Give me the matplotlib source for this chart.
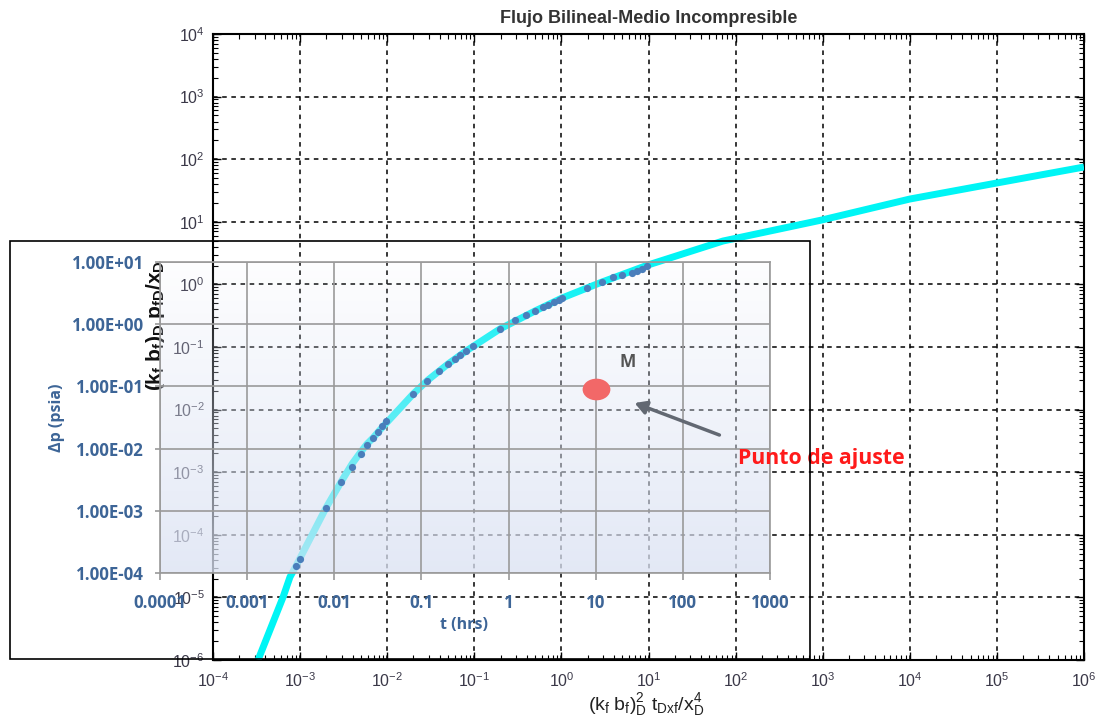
import numpy as np
import matplotlib
matplotlib.use("Agg")
import matplotlib.pyplot as plt
from matplotlib.patches import Rectangle
from matplotlib.path import Path
from matplotlib.transforms import Affine2D
from matplotlib.ticker import LogLocator, NullFormatter

plt.rcParams['font.family'] = ['Liberation Sans', 'DejaVu Sans']
plt.rcParams['mathtext.fontset'] = 'custom'
plt.rcParams['mathtext.rm'] = 'Liberation Sans'
plt.rcParams['mathtext.it'] = 'Liberation Sans'
plt.rcParams['mathtext.bf'] = 'Liberation Sans:bold'

# type curve: bilinear flow, incompressible fluid
curve_x = [3.29e-4, 6.37e-4, 7.66e-4, 8.97e-4, 1.0e-3, 1.98e-3, 2.95e-3, 3.94e-3,
           4.88e-3, 5.86e-3, 6.87e-3, 8.05e-3, 0.0198, 0.0294, 0.0499, 0.0804,
           0.197, 0.498, 1.02, 2.92, 9.86, 71.6, 982, 1.0e4, 1.0e5, 1.0e6]
curve_y = [1.0e-6, 1.01e-5, 2.12e-5, 3.18e-5, 4.26e-5, 2.68e-4, 6.97e-4, 1.35e-3,
           2.03e-3, 2.82e-3, 3.52e-3, 4.55e-3, 0.0177, 0.0297, 0.0535, 0.0863,
           0.194, 0.376, 0.607, 1.09, 2.04, 4.93, 10.7, 23.1, 41.7, 75.0]

# field data: time (hrs) and pressure change (psia)
t_hrs = [0.00364, 0.00405, 0.00805, 0.0120, 0.0160, 0.0203, 0.0238, 0.0279, 0.0318,
         0.0354, 0.0394, 0.0804, 0.116, 0.160, 0.203, 0.244, 0.278, 0.326, 0.393,
         0.802, 1.19, 1.59, 2.02, 2.49, 2.85, 3.34, 3.81, 4.12, 7.98, 11.9, 15.9,
         20.1, 26.2, 29.9, 34.2, 39.0]
dp_psia = [1.30e-4, 1.68e-4, 1.11e-3, 2.90e-3, 5.06e-3, 8.18e-3, 0.0114, 0.0148, 0.0185,
           0.0231, 0.0278, 0.0755, 0.122, 0.177, 0.229, 0.276, 0.320, 0.371, 0.447,
           0.837, 1.17, 1.41, 1.63, 1.89, 2.04, 2.28, 2.45, 2.64, 3.82, 4.76, 5.74,
           6.18, 6.65, 7.16, 7.71, 8.63]

match_t = 10.0
match_dp = 0.09

t_ticks = [1e-4, 1e-3, 1e-2, 1e-1, 1, 10, 100, 1000]
t_labels = ['0.0001', '0.001', '0.01', '0.1', '1', '10', '100', '1000']
dp_ticks = [1e-4, 1e-3, 1e-2, 1e-1, 1, 10]
dp_labels = ['1.00E-04', '1.00E-03', '1.00E-02', '1.00E-01', '1.00E+00', '1.00E+01']

W, H = 1102, 726


def frect(left, top, right, bottom):
    # pixel box -> figure fraction rect
    return [left / W, 1 - bottom / H, (right - left) / W, (bottom - top) / H]


def fpt(px, py):
    return (px / W, 1 - py / H)


fig = plt.figure(figsize=(W / 100, H / 100), dpi=100)

# ---- type curve axes ----
ax = fig.add_axes(frect(213, 34, 1084, 660))
ax.set_xscale('log')
ax.set_yscale('log')
ax.plot(curve_x, curve_y, color='#00f5f5', lw=5.0, solid_capstyle='butt', zorder=3)
ax.set_xlim(1e-4, 1e6)
ax.set_ylim(1e-6, 1e4)
ax.xaxis.set_major_locator(LogLocator(base=10, numticks=20))
ax.yaxis.set_major_locator(LogLocator(base=10, numticks=20))
ax.xaxis.set_minor_locator(LogLocator(base=10, subs=np.arange(2, 10), numticks=20))
ax.yaxis.set_minor_locator(LogLocator(base=10, subs=np.arange(2, 10), numticks=20))
ax.xaxis.set_minor_formatter(NullFormatter())
ax.yaxis.set_minor_formatter(NullFormatter())
ax.grid(True, which='major', color='black', ls=(0, (3, 3)), lw=1.1)
ax.tick_params(which='both', direction='in', top=True, right=True, color='black')
ax.tick_params(which='major', length=6, width=1.0, labelsize=11.5, labelcolor='#3a3848')
ax.tick_params(which='minor', length=3.5, width=0.8)
ax.tick_params(axis='y', pad=6)
ax.tick_params(axis='x', pad=8)
for s in ax.spines.values():
    s.set_linewidth(1.5)
ax.set_title('Flujo Bilineal-Medio Incompresible', fontsize=13, fontweight='bold',
             color='#333333', pad=8)
ax.set_xlabel(r'$(k_f\ b_f)_D^2\ t_{Dxf}/x_D^4$', fontsize=14, color='#222222')
ax.xaxis.set_label_coords(0.497, -0.050)
ax.set_ylabel(r'$\mathbf{(k_f\ b_f)_D\ p_{fD}/x_D}$', fontsize=15, color='#111111')
ax.yaxis.set_label_coords(-0.053, 0.535)

# ---- field data overlay ----
inset_rect = frect(160, 262, 770, 573)
gax = fig.add_axes(inset_rect)
gax.axis('off')
grad = np.zeros((256, 1, 4))
grad[..., 0] = 0.86
grad[..., 1] = 0.89
grad[..., 2] = 0.955
grad[:, 0, 3] = np.linspace(0.05, 0.78, 256)
gax.imshow(grad, aspect='auto', extent=[0, 1, 0, 1], origin='upper')

ax2 = fig.add_axes(inset_rect)
ax2.set_facecolor('none')
ax2.set_xscale('log')
ax2.set_yscale('log')
ax2.plot(t_hrs, dp_psia, 'o', color='#4a7ebb', ms=5.2, mec='none', zorder=4)
ell = Path(Affine2D().scale(1.0, 0.78).transform(Path.unit_circle().vertices),
           Path.unit_circle().codes)
ax2.plot([match_t], [match_dp], marker=ell, ms=20, color='#f26868', mec='none', zorder=5)
ax2.set_xlim(1e-4, 1e3)
ax2.set_ylim(1e-4, 1e1)
ax2.set_xticks(t_ticks)
ax2.set_xticklabels(t_labels)
ax2.set_yticks(dp_ticks)
ax2.set_yticklabels(dp_labels)
ax2.minorticks_off()
ax2.grid(True, which='major', color='#9a9a9a', lw=1.2, zorder=1)
ax2.set_axisbelow(True)
for s in ax2.spines.values():
    s.set_color('#9a9a9a')
    s.set_linewidth(1.2)
blue = '#3d6597'
ax2.tick_params(axis='x', direction='out', length=5, width=1.2, color='#9a9a9a', pad=10)
ax2.tick_params(axis='y', direction='out', length=3.6, width=1.2, color='#9a9a9a', pad=8)
for lab in ax2.get_xticklabels() + ax2.get_yticklabels():
    lab.set_fontfamily(['Open Sans', 'DejaVu Sans'])
    lab.set_fontweight('bold')
    lab.set_fontsize(12.2)
    lab.set_color(blue)

fig.text(*fpt(464, 625), 't (hrs)', ha='center', va='center', fontsize=11.5,
         fontweight='bold', color=blue, family=['Open Sans', 'DejaVu Sans'])
fig.text(*fpt(57, 418), 'Δp (psia)', ha='center', va='center', rotation=90, fontsize=11.5,
         fontweight='bold', color=blue, family=['Open Sans', 'DejaVu Sans'])

# match point annotation
fig.text(*fpt(628, 362), 'M', ha='center', va='center', fontsize=12.5, fontweight='bold',
         color='#555555', family=['Open Sans', 'DejaVu Sans'])
fig.text(*fpt(821, 458), 'Punto de ajuste', ha='center', va='center', fontsize=15.3,
         fontweight='bold', color='#ff1a1a', family=['Open Sans', 'DejaVu Sans'])
fig.add_artist(plt.Annotation('', xy=fpt(632, 402), xytext=fpt(722, 436),
                              xycoords='figure fraction', textcoords='figure fraction',
                              arrowprops=dict(arrowstyle='-|>,head_length=0.7,head_width=0.4',
                                              color='#626872', lw=2.5)))

# frame around the field data chart
fig.add_artist(Rectangle(fpt(10, 659), 800 / W, 418 / H, transform=fig.transFigure,
                         fill=False, ec='black', lw=1.2, zorder=6))

fig.savefig('out.png', dpi=100)
